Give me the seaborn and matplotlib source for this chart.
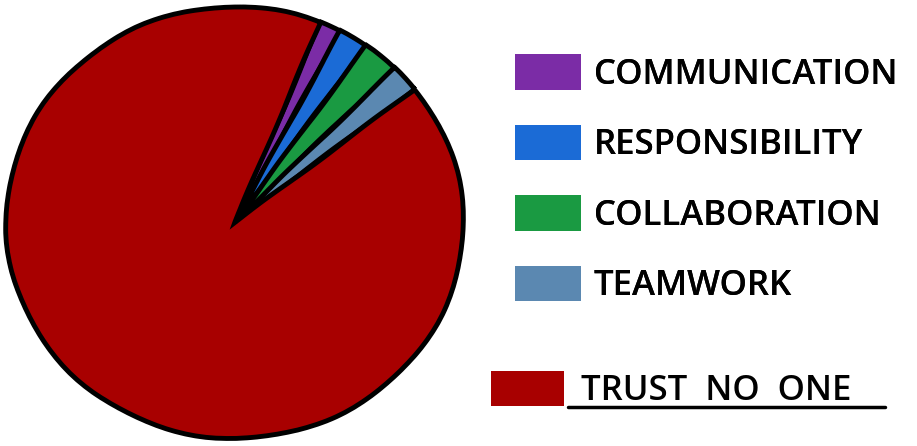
import matplotlib
matplotlib.use("Agg")
import matplotlib.pyplot as plt
import seaborn as sns
from matplotlib.lines import Line2D
from matplotlib.patches import Patch

categories = ["COMMUNICATION", "RESPONSIBILITY", "COLLABORATION", "TEAMWORK", "TRUST  NO  ONE"]
values = [1.5, 2.1, 2.6, 2.1, 91.7]
colors = ["#7b2ca6", "#1b6bd6", "#1a9a42", "#5b88b1", "#a80000"]

sns.set_theme(style="white")
plt.rcParams['font.family'] = ['Open Sans', 'DejaVu Sans']
plt.rcParams['text.color'] = 'black'

fig = plt.figure(figsize=(9.17, 4.46), dpi=100)
ax = fig.add_axes([0.004, 0.012, 0.504, 0.978])
wedges, _ = ax.pie(values, colors=colors, startangle=68, counterclock=False,
                   wedgeprops=dict(edgecolor="black", linewidth=3.5))
for w in wedges:
    w.set_sketch_params(0.6, 150, 2)
ax.set_aspect("auto")
ax.set_xlim(-1.01, 1.01)
ax.set_ylim(-1.01, 1.01)
ax.axis("off")

font = dict(family=['Open Sans', 'DejaVu Sans'], size=25, weight='semibold')
handles = [Patch(facecolor=c, edgecolor='none') for c in colors[:4]]
leg1 = fig.legend(handles, categories[:4], loc="upper left",
                  bbox_to_anchor=(0.547, 0.91), frameon=False,
                  prop=font, handlelength=1.9, handleheight=1.2,
                  labelspacing=0.95, handletextpad=0.35, borderaxespad=0)
fig.add_artist(leg1)
leg2 = fig.legend([Patch(facecolor=colors[4], edgecolor='none')], [categories[4]],
                  loc="upper left", bbox_to_anchor=(0.52, 0.2), frameon=False,
                  prop=font, handlelength=2.1, handleheight=1.2,
                  handletextpad=0.5, borderaxespad=0)
fig.add_artist(Line2D([0.619, 0.965], [0.087, 0.087], transform=fig.transFigure,
                      color="black", linewidth=2.5))

fig.savefig("out.png", dpi=100, facecolor="white")
